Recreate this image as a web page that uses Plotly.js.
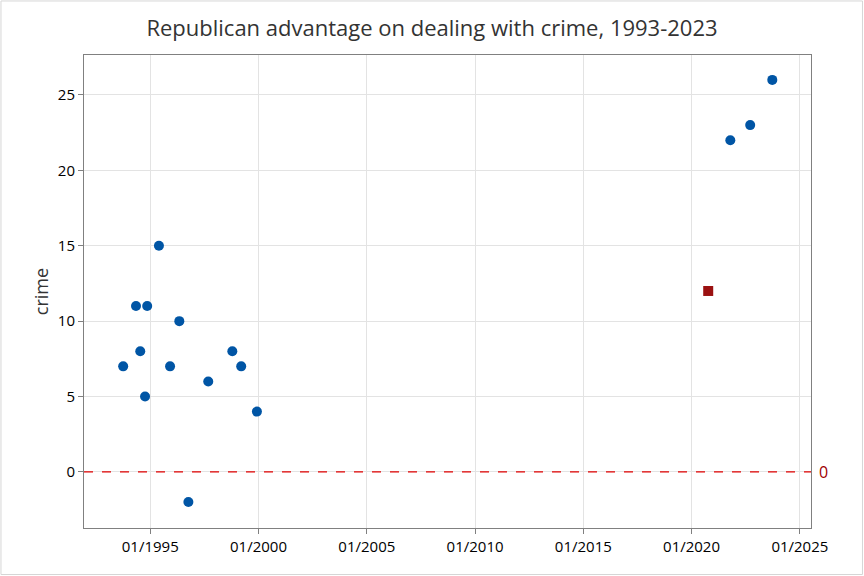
<!DOCTYPE html>
<html>
<head>
<meta charset="utf-8">
<script src="https://cdn.plot.ly/plotly-3.0.1.min.js"></script>
<style>html,body{margin:0;padding:0;background:#fff;}#chart{width:864px;height:576px;}</style>
</head>
<body>
<div id="chart"></div>
<script>
const surveyDates = ["1993-10-01","1994-05-05","1994-07-16","1994-10-05","1994-11-10","1995-05-27","1995-12-01","1996-05-05","1996-10-05","1997-09-05","1998-10-16","1999-03-15","1999-12-05","2021-10-16","2022-09-16","2023-09-24"];
const crimeValues = [7,11,8,5,11,15,7,10,-2,6,8,7,4,22,23,26];
const highlightDates = ["2020-10-08"];
const highlightValues = [12];
const referenceValue = 0;
const referenceLabel = "0";

const traces = [
  {x: surveyDates, y: crimeValues, type: "scatter", mode: "markers",
   marker: {color: "#0055a5", size: 10, symbol: "circle", line: {width: 0}}, showlegend: false, hoverinfo: "x+y"},
  {x: highlightDates, y: highlightValues, type: "scatter", mode: "markers",
   marker: {color: "#9b1111", size: 10, symbol: "square", line: {width: 0}}, showlegend: false, hoverinfo: "x+y"}
];

const layout = {
  width: 864, height: 576,
  margin: {l: 84, r: 53, t: 55, b: 48},
  paper_bgcolor: "#fff", plot_bgcolor: "#fff",
  font: {family: "Open Sans, Noto Sans, sans-serif", color: "#111"},
  title: {text: "Republican advantage on dealing with crime, 1993-2023", x: 0.5, xanchor: "center", y: 0.951, yanchor: "middle",
          font: {size: 22, color: "#333"}},
  xaxis: {type: "date", range: ["1991-12-10", "2025-07-08"], tick0: "1995-01-01", dtick: "M60", tickformat: "%m/%Y",
          showgrid: true, gridcolor: "#e3e3e3", gridwidth: 1, zeroline: false,
          showline: true, linecolor: "#808080", linewidth: 1, mirror: true,
          ticks: "outside", ticklen: 5, tickcolor: "#808080", tickfont: {size: 15, color: "#000"}},
  yaxis: {range: [-3.72, 27.65], dtick: 5, tick0: 0,
          showgrid: true, gridcolor: "#e3e3e3", gridwidth: 1, zeroline: false,
          showline: true, linecolor: "#808080", linewidth: 1, mirror: true,
          ticks: "outside", ticklen: 5, tickcolor: "#808080", tickfont: {size: 15, color: "#000"},
          title: {text: "crime", font: {size: 18, color: "#333"}, standoff: 4}},
  shapes: [
    {type: "line", xref: "paper", yref: "y", x0: 0, x1: 1, y0: referenceValue, y1: referenceValue,
     line: {color: "#e00000", width: 1.3, dash: "dash"}},
    {type: "rect", xref: "paper", yref: "paper", x0: -0.1142, x1: 1.0708, y0: -0.0983, y1: 1.1142,
     line: {color: "#d6d6d6", width: 1}, fillcolor: "rgba(0,0,0,0)", layer: "below"}
  ],
  annotations: [
    {xref: "paper", yref: "y", x: 1, y: referenceValue, text: referenceLabel, showarrow: false,
     xanchor: "left", yanchor: "middle", xshift: 6, font: {size: 16, color: "#a00000"}}
  ]
};

Plotly.newPlot("chart", traces, layout, {displayModeBar: false, staticPlot: true});
</script>
</body>
</html>
